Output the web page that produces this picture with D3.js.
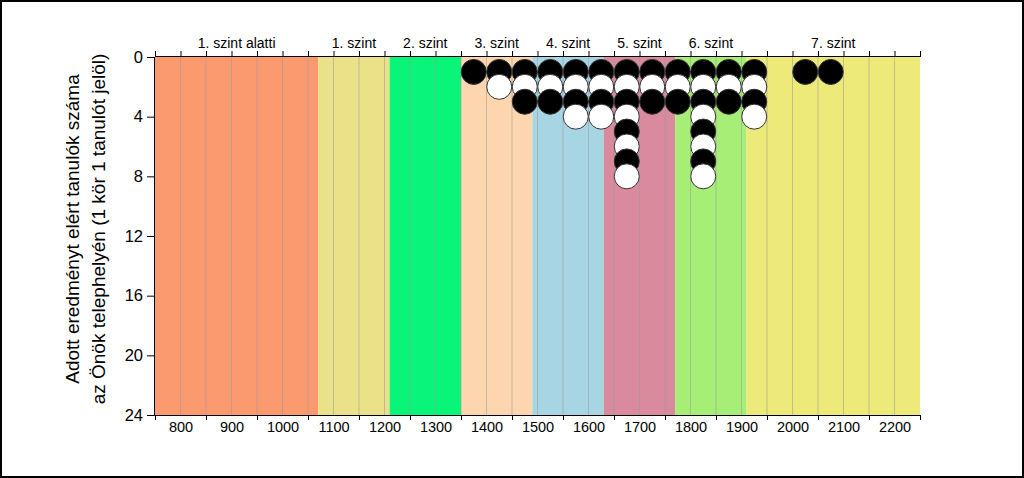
<!DOCTYPE html>
<html>
<head>
<meta charset="utf-8">
<script src="https://cdn.jsdelivr.net/npm/d3@7"></script>
<style>
  html, body { margin: 0; padding: 0; background: #fff; }
  svg { display: block; font-family: "Liberation Sans", Arial, sans-serif; }
</style>
</head>
<body>
<svg id="chart" width="1024" height="478"></svg>
<script>
// ---- data ----
const bandNames  = ["1. szint alatti", "1. szint", "2. szint", "3. szint", "4. szint", "5. szint", "6. szint", "7. szint"];
const bandStarts = [750, 1070, 1210, 1350, 1490, 1630, 1770, 1910];
const bandEnds   = [1070, 1210, 1350, 1490, 1630, 1770, 1910, 2250];
const bandColors = ["#FB9A6F", "#EBE188", "#08F57A", "#FDD5AF", "#A8D5E4", "#D98A9C", "#A7EE77", "#EEEA79"];

const dotScores = [1375, 1425, 1475, 1525, 1575, 1625, 1675, 1725, 1775, 1825, 1875, 1925, 2025, 2075];
const dotCounts = [1, 2, 3, 3, 4, 4, 8, 3, 3, 8, 3, 4, 1, 1];

const xTickLabels = [800, 900, 1000, 1100, 1200, 1300, 1400, 1500, 1600, 1700, 1800, 1900, 2000, 2100, 2200];
const yTickLabels = [0, 4, 8, 12, 16, 20, 24];
const yTitle = ["Adott eredményt elért tanulók száma", "az Önök telephelyén (1 kör 1 tanulót jelöl)"];

// ---- layout ----
const svg = d3.select("#chart");
const W = 1024, H = 478;
const pL = 155, pR = 920, pT = 57, pB = 415;

const x = d3.scaleLinear().domain([750, 2250]).range([pL, pR]);
const y = d3.scaleLinear().domain([0, 24]).range([pT, pB]);

// outer frame
svg.append("rect").attr("x", 1).attr("y", 1).attr("width", W - 2).attr("height", H - 2)
  .attr("fill", "#fff").attr("stroke", "#000").attr("stroke-width", 2);

// bands
svg.append("g").selectAll("rect").data(bandNames).join("rect")
  .attr("x", (d, i) => x(bandStarts[i]))
  .attr("y", pT)
  .attr("width", (d, i) => x(bandEnds[i]) - x(bandStarts[i]))
  .attr("height", pB - pT)
  .attr("fill", (d, i) => bandColors[i]);

// vertical grid lines every 50
const gridVals = d3.range(800, 2250, 50);
svg.append("g").selectAll("line").data(gridVals).join("line")
  .attr("x1", d => x(d)).attr("x2", d => x(d))
  .attr("y1", pT).attr("y2", pB)
  .attr("stroke", "#9a9a9a").attr("stroke-opacity", 0.55).attr("stroke-width", 1);

// band labels on top
svg.append("g").selectAll("text").data(bandNames).join("text")
  .attr("x", (d, i) => x((bandStarts[i] + bandEnds[i]) / 2))
  .attr("y", 48)
  .attr("text-anchor", "middle")
  .attr("font-size", 14)
  .attr("fill", "#000")
  .text(d => d);

// top axis: ticks every 50
const topAxis = d3.axisTop(x).tickValues(d3.range(750, 2251, 50)).tickSize(6).tickFormat("");
svg.append("g").attr("transform", `translate(0,${pT})`).call(topAxis)
  .call(g => g.select(".domain").attr("stroke", "#000").attr("d", `M${pL},-0.5H${pR + 1}`))
  .call(g => g.selectAll(".tick line").attr("stroke", "#000"));

// bottom axis: tick marks at x50 positions, labels at hundreds
const botTicks = d3.axisBottom(x).tickValues(d3.range(750, 2251, 100)).tickSize(5).tickFormat("");
svg.append("g").attr("transform", `translate(0,${pB})`).call(botTicks)
  .call(g => g.select(".domain").attr("stroke", "#000").attr("d", `M${pL - 2},0.5H${pR}`))
  .call(g => g.selectAll(".tick line").attr("stroke", "#000"));
const botLabels = d3.axisBottom(x).tickValues(xTickLabels).tickSize(0).tickPadding(7).tickFormat(d3.format("d"));
svg.append("g").attr("transform", `translate(0,${pB})`).call(botLabels)
  .call(g => g.select(".domain").remove())
  .call(g => g.selectAll("text").attr("font-size", 14.5).attr("fill", "#000")
    .attr("font-family", "Liberation Sans, Arial, sans-serif"));

// left axis
const leftAxis = d3.axisLeft(y).tickValues(yTickLabels).tickSize(8).tickPadding(4).tickFormat(d3.format("d"));
svg.append("g").attr("transform", `translate(${pL},0)`).call(leftAxis)
  .call(g => g.select(".domain").attr("stroke", "#000").attr("d", `M-0.5,${pT}V${pB + 1}`))
  .call(g => g.selectAll(".tick line").attr("stroke", "#000"))
  .call(g => g.selectAll("text").attr("font-size", 16.5).attr("fill", "#000")
    .attr("font-family", "Liberation Sans, Arial, sans-serif"));

// y title
const yt = svg.append("text")
  .attr("transform", `translate(79,229) rotate(-90)`)
  .attr("text-anchor", "middle")
  .attr("font-size", 19)
  .attr("fill", "#000");
yt.selectAll("tspan").data(yTitle).join("tspan")
  .attr("x", 0).attr("dy", (d, i) => i === 0 ? 0 : 26)
  .text(d => d);

// dots: stacked circles, alternating black/white
const dots = [];
dotScores.forEach((s, i) => {
  for (let k = 1; k <= dotCounts[i]; k++) dots.push({ score: s, k });
});
const r = 12.5;
svg.append("g").selectAll("circle").data(dots).join("circle")
  .attr("cx", d => x(d.score))
  .attr("cy", d => y(d.k))
  .attr("r", r)
  .attr("fill", d => d.k % 2 === 1 ? "#000" : "#fff")
  .attr("stroke", "#333")
  .attr("stroke-width", 1);
</script>
</body>
</html>
